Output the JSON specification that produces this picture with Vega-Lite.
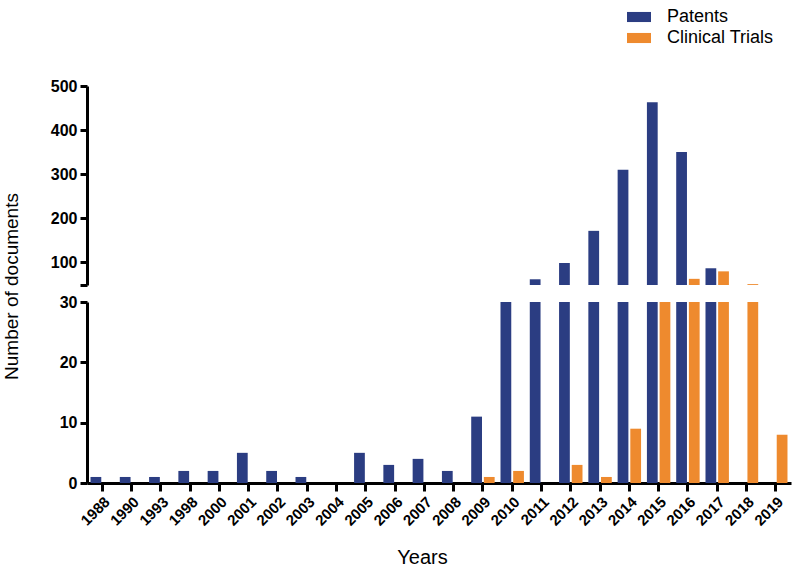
{
  "$schema": "https://vega.github.io/schema/vega-lite/v6.json",
  "padding": {"left": 2, "top": 5, "right": 5, "bottom": 5},
  "bounds": "flush",
  "config": {
    "view": {"stroke": null},
    "font": "Liberation Sans",
    "axis": {"domainColor": "black", "domainWidth": 3, "tickColor": "black", "tickWidth": 3, "tickSize": 7, "labelColor": "black", "labelFont": "Liberation Sans", "labelFontWeight": "bold", "grid": false, "titleColor": "black", "titleFont": "Liberation Sans", "titleFontWeight": "normal"}
  },
  "data": {
    "values": [
      {"year": "1988", "type": "Patents", "count": 1},
      {"year": "1990", "type": "Patents", "count": 1},
      {"year": "1993", "type": "Patents", "count": 1},
      {"year": "1998", "type": "Patents", "count": 2},
      {"year": "2000", "type": "Patents", "count": 2},
      {"year": "2001", "type": "Patents", "count": 5},
      {"year": "2002", "type": "Patents", "count": 2},
      {"year": "2003", "type": "Patents", "count": 1},
      {"year": "2004", "type": "Patents", "count": 0},
      {"year": "2005", "type": "Patents", "count": 5},
      {"year": "2006", "type": "Patents", "count": 3},
      {"year": "2007", "type": "Patents", "count": 4},
      {"year": "2008", "type": "Patents", "count": 2},
      {"year": "2009", "type": "Patents", "count": 11},
      {"year": "2010", "type": "Patents", "count": 40},
      {"year": "2011", "type": "Patents", "count": 61},
      {"year": "2012", "type": "Patents", "count": 98},
      {"year": "2013", "type": "Patents", "count": 171},
      {"year": "2014", "type": "Patents", "count": 310},
      {"year": "2015", "type": "Patents", "count": 463},
      {"year": "2016", "type": "Patents", "count": 350},
      {"year": "2017", "type": "Patents", "count": 86},
      {"year": "2018", "type": "Patents", "count": 0},
      {"year": "2019", "type": "Patents", "count": 0},
      {"year": "2009", "type": "Clinical Trials", "count": 1},
      {"year": "2010", "type": "Clinical Trials", "count": 2},
      {"year": "2012", "type": "Clinical Trials", "count": 3},
      {"year": "2013", "type": "Clinical Trials", "count": 1},
      {"year": "2014", "type": "Clinical Trials", "count": 9},
      {"year": "2015", "type": "Clinical Trials", "count": 42},
      {"year": "2016", "type": "Clinical Trials", "count": 62},
      {"year": "2017", "type": "Clinical Trials", "count": 79},
      {"year": "2018", "type": "Clinical Trials", "count": 50},
      {"year": "2019", "type": "Clinical Trials", "count": 8}
    ]
  },
  "resolve": {"scale": {"y": "independent"}},
  "spacing": 17,
  "vconcat": [
    {
      "width": 704,
      "height": 199,
      "mark": {"type": "bar", "clip": true},
      "encoding": {
        "x": {"field": "year", "type": "nominal", "sort": null, "scale": {"paddingInner": 0.2, "paddingOuter": 0.12}, "axis": null},
        "xOffset": {"field": "type", "type": "nominal", "sort": ["Patents", "Clinical Trials"], "scale": {"paddingInner": 0.15}},
        "y": {"field": "count", "type": "quantitative", "scale": {"domain": [48, 500], "zero": false, "nice": false}, "axis": {"values": [48, 100, 200, 300, 400, 500], "labelExpr": "datum.value < 50 ? '' : datum.label", "title": null, "labelFontSize": 16, "labelPadding": 3}},
        "color": {"field": "type", "type": "nominal", "sort": ["Patents", "Clinical Trials"], "scale": {"domain": ["Patents", "Clinical Trials"], "range": ["#2B3D82", "#EE8A2E"]},
          "legend": {"title": null, "orient": "none", "legendX": 540, "legendY": -81, "symbolType": "M-1,-0.42H1V0.42H-1Z", "symbolSize": 576, "symbolStrokeWidth": 0, "labelFontSize": 18, "labelFont": "Liberation Sans", "labelColor": "black", "labelFontWeight": "normal", "labelOffset": 16, "rowPadding": 0}}
      }
    },
    {
      "width": 704,
      "height": 181,
      "mark": {"type": "bar", "clip": true},
      "encoding": {
        "x": {"field": "year", "type": "nominal", "sort": null, "scale": {"paddingInner": 0.2, "paddingOuter": 0.12},
          "axis": {"labelAngle": -45, "labelFontSize": 15, "labelPadding": 3, "tickSize": 8, "title": "Years", "titleFontSize": 20, "titleX": 335, "titleY": 80, "titleAlign": "center", "titleBaseline": "alphabetic"}},
        "xOffset": {"field": "type", "type": "nominal", "sort": ["Patents", "Clinical Trials"], "scale": {"paddingInner": 0.15}},
        "y": {"field": "count", "type": "quantitative", "scale": {"domain": [0, 30], "nice": false}, "axis": {"values": [0, 10, 20, 30], "labelFontSize": 16, "labelPadding": 3, "title": "Number of documents", "titleFontSize": 19, "titleX": -66, "titleY": -16, "titleBaseline": "bottom"}},
        "color": {"field": "type", "type": "nominal", "sort": ["Patents", "Clinical Trials"], "scale": {"domain": ["Patents", "Clinical Trials"], "range": ["#2B3D82", "#EE8A2E"]}}
      }
    }
  ]
}
